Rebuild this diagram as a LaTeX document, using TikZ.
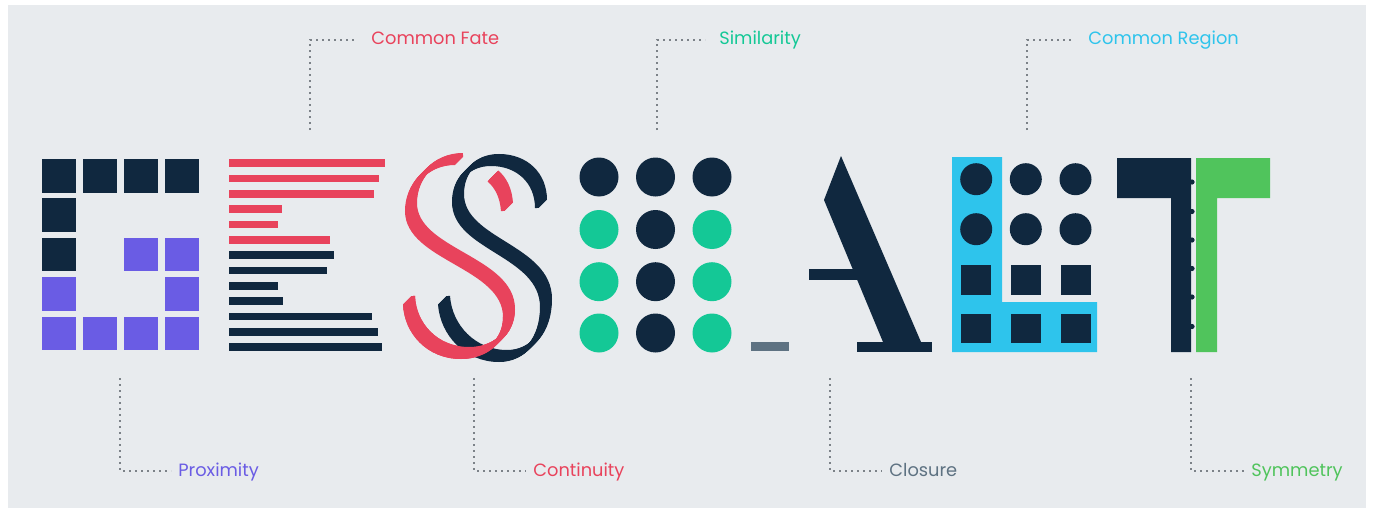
\documentclass[tikz,border=0pt]{standalone}
\usepackage{fontspec}
\setmainfont{Poppins}
\usetikzlibrary{positioning}

\definecolor{panelGray}{HTML}{E8EBEE}
\definecolor{inkNavy}{HTML}{10283F}
\definecolor{proxPurple}{HTML}{6A5CE4}
\definecolor{fateRed}{HTML}{E8435C}
\definecolor{simTeal}{HTML}{14C896}
\definecolor{regionCyan}{HTML}{2EC4EC}
\definecolor{symGreen}{HTML}{50C45C}
\definecolor{closeGray}{HTML}{5E7282}
\definecolor{dotGray}{HTML}{7C8288}

% centre lines of the two S strokes
\newcommand{\pathRedTail}{(507,207) .. controls (506,193) and (501,183) .. (493,176)}
\newcommand{\pathRedS}{(459,159) .. controls (430,159) and (411,182) .. (411,207)
  .. controls (411,255) and (509,262) .. (509,313)}
\newcommand{\pathRedBowl}{(509,313) .. controls (509,337) and (490,353) .. (465,353)
  .. controls (432,353) and (410,328) .. (409,300)}
\newcommand{\pathNavyS}{(541,204) .. controls (541,178) and (522,160) .. (495,160)
  .. controls (472,160) and (458,176) .. (458,198)
  .. controls (458,245) and (546,250) .. (546,303)
  .. controls (546,335) and (528,356) .. (503,356)
  .. controls (470,356) and (446,330) .. (444,300)}

\begin{document}
\begin{tikzpicture}[x=0.5pt, y=-0.5pt,
    lbl/.style={anchor=base west, inner sep=0pt, text height=5pt, text depth=0pt,
                font=\fontsize{8.9}{10}\selectfont},
    leader/.style={draw=dotGray, line width=1pt, dash pattern=on 1pt off 2pt},
    pen/.style={line width=2pt}]

    % Panel
    \fill[white] (0,0) rectangle (1373,514);
    \fill[panelGray] (8,5) rectangle (1366,508);
    \useasboundingbox (0,0) rectangle (1373,514);

    % G: proximity squares
    \foreach \c/\r/\col in {0/0/inkNavy, 1/0/inkNavy, 2/0/inkNavy, 3/0/inkNavy,
                            0/1/inkNavy, 0/2/inkNavy, 2/2/proxPurple, 3/2/proxPurple,
                            0/3/proxPurple, 3/3/proxPurple, 0/4/proxPurple,
                            1/4/proxPurple, 2/4/proxPurple, 3/4/proxPurple}
        \fill[\col] ({42.3+40.8*\c},{159+39.4*\r}) rectangle +(34,33.5);

    % E: common fate bars
    \foreach \r [count=\i from 0] in {385,379,374,282,278,330}
        \fill[fateRed] (229,{159.3+15.33*\i}) rectangle (\r,{166.9+15.33*\i});
    \foreach \r [count=\i from 6] in {334,327,278,283,372,378,382}
        \fill[inkNavy] (229,{159.3+15.33*\i}) rectangle (\r,{166.9+15.33*\i});

    % S: two interlaced strokes
    \foreach \t in {-4,-3.5,...,4} {
        \draw[fateRed, pen, shift={(\t,-\t)}] \pathRedTail;
        \draw[fateRed, pen, shift={(\t,-\t)}] \pathRedS \pathRedBowl;
    }
    \foreach \t in {-4,-3.5,...,4}
        \draw[inkNavy, pen, shift={(\t,-\t)}] \pathNavyS;
    \foreach \t in {-4,-3.5,...,4}
        \draw[fateRed, pen, shift={(\t,-\t)}] \pathRedBowl;

    % S: similarity dots
    \foreach \y [count=\r from 0] in {177,229.5,281.7,333} {
        \ifnum\r=0
            \fill[inkNavy] (599,\y) circle (19.5);
            \fill[inkNavy] (712,\y) circle (19.5);
        \else
            \fill[simTeal] (599,\y) circle (19.5);
            \fill[simTeal] (712,\y) circle (19.5);
        \fi
        \fill[inkNavy] (655.5,\y) circle (19.5);
    }

    % underscore and A (closure)
    \fill[closeGray] (751,342) rectangle (789,351);
    \fill[inkNavy] (841,156) -- (921,342) -- (883,342) -- (824,200) -- cycle;
    \fill[inkNavy] (857,342) rectangle (932,352);
    \fill[inkNavy] (809,269) rectangle (865,280);

    % L: common region
    \fill[regionCyan] (952,157) -- (1002,157) -- (1002,302) -- (1097,302)
        -- (1097,352) -- (952,352) -- cycle;
    \foreach \x in {976.2,1025.8,1075.5} {
        \fill[inkNavy] (\x,179.2) circle (16);
        \fill[inkNavy] (\x,229.2) circle (16);
        \fill[inkNavy] ({\x-15},265) rectangle +(30,29.5);
        \fill[inkNavy] ({\x-15},313.5) rectangle +(30,29.5);
    }

    % T: symmetry
    \fill[inkNavy] (1117,158) -- (1191,158) -- (1191,352) -- (1171,352)
        -- (1171,198) -- (1117,198) -- cycle;
    \fill[symGreen] (1196,158) -- (1270,158) -- (1270,198) -- (1217,198)
        -- (1217,352) -- (1196,352) -- cycle;
    \foreach \y in {182,211.5,240,268.5,297,326.5}
        \fill[inkNavy] (1192,\y) circle (2.6);

    % Labels
    \node[lbl, text=fateRed]    (fate)   at (371,45)   {Common Fate};
    \node[lbl, text=simTeal]    (sim)    at (719,45)   {Similarity};
    \node[lbl, text=regionCyan] (region) at (1088,45)  {Common Region};
    \node[lbl, text=proxPurple] (prox)   at (178,476)  {Proximity};
    \node[lbl, text=fateRed]    (cont)   at (533,476)  {Continuity};
    \node[lbl, text=closeGray]  (close)  at (889,476)  {Closure};
    \node[lbl, text=symGreen]   (sym)    at (1251,476) {Symmetry};

    % Leader ends at the letters
    \coordinate (fateE)   at (310,130);
    \coordinate (simE)    at (657,130);
    \coordinate (regionE) at (1027,130);
    \coordinate (proxG)   at (120,378);
    \coordinate (contS)   at (474,378);
    \coordinate (closeA)  at (830,378);
    \coordinate (symT)    at (1191,378);

    % Leaders
    \draw[leader, shorten >=8pt] (fateE) |- (fate.west);
    \draw[leader, shorten >=7pt] (simE) |- (sim.west);
    \draw[leader, shorten >=7pt] (regionE) |- (region.west);
    \draw[leader, shorten >=3.5pt] (proxG) |- (prox.west);
    \draw[leader, shorten >=3.5pt] (contS) |- (cont.west);
    \draw[leader, shorten >=3.5pt] (closeA) |- (close.west);
    \draw[leader, shorten >=3.5pt] (symT) |- (sym.west);

\end{tikzpicture}
\end{document}
